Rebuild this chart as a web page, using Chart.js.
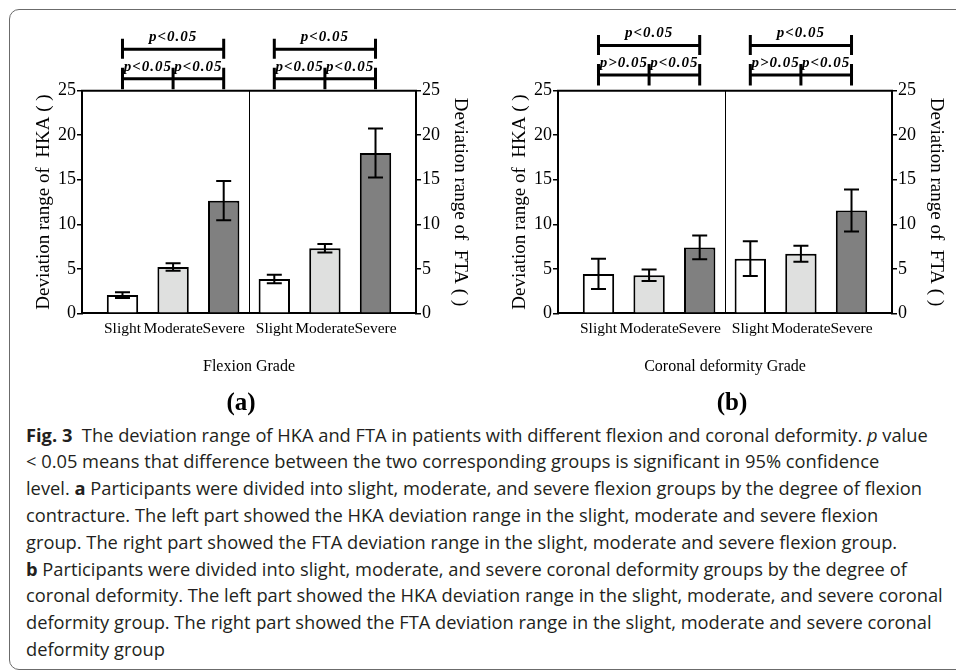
<!DOCTYPE html>
<html>
<head>
<meta charset="utf-8">
<script src="https://cdn.jsdelivr.net/npm/chart.js"></script>
<style>
  html, body { margin: 0; padding: 0; background: #fff; }
  body { width: 956px; height: 670px; position: relative; overflow: hidden; }
  .frame { position: absolute; left: 9px; top: 9px; width: 1000px; height: 661px; border: 1.5px solid #6b6b6b; border-radius: 10px; box-sizing: border-box; }
  .panel { position: absolute; top: 0; width: 478px; height: 390px; }
  .tag { position: absolute; top: 388px; font: bold 25px 'Liberation Serif', serif; line-height: 28px; transform: translateX(-50%); color: #000; }
  .caption { position: absolute; left: 26px; top: 421.6px; font-family: 'Open Sans', sans-serif; font-size: 18.3px; line-height: 26.8px; color: #231f20; white-space: nowrap; }
  .caption b { font-weight: bold; }
</style>
</head>
<body>
<div class="frame"></div>
<div class="panel" style="left:0px"><canvas id="flexionChart"></canvas></div>
<div class="panel" style="left:476px"><canvas id="coronalChart"></canvas></div>
<div class="tag" style="left:241px">(a)</div>
<div class="tag" style="left:732px">(b)</div>
<div class="caption">
  <div><b>Fig. 3</b>&nbsp;&nbsp;The deviation range of HKA and FTA in patients with different flexion and coronal deformity. <i>p</i> value</div>
  <div>&lt; 0.05 means that difference between the two corresponding groups is significant in 95% confidence</div>
  <div>level. <b>a</b> Participants were divided into slight, moderate, and severe flexion groups by the degree of flexion</div>
  <div>contracture. The left part showed the HKA deviation range in the slight, moderate and severe flexion</div>
  <div>group. The right part showed the FTA deviation range in the slight, moderate and severe flexion group.</div>
  <div><b>b</b> Participants were divided into slight, moderate, and severe coronal deformity groups by the degree of</div>
  <div>coronal deformity. The left part showed the HKA deviation range in the slight, moderate, and severe coronal</div>
  <div>deformity group. The right part showed the FTA deviation range in the slight, moderate and severe coronal</div>
  <div>deformity group</div>
</div>

<script>
const grades = ['Slight', 'Moderate', 'Severe'];

// flexion grade (panel a)
const flexionHKA = [2.05, 5.2, 12.65];
const flexionHKAErr = [0.32, 0.43, 2.2];
const flexionFTA = [3.85, 7.3, 18.0];
const flexionFTAErr = [0.47, 0.47, 2.75];
// [Slight-Severe, Slight-Moderate, Moderate-Severe]
const flexionHKAp = ['p<0.05', 'p<0.05', 'p<0.05'];
const flexionFTAp = ['p<0.05', 'p<0.05', 'p<0.05'];

// coronal deformity grade (panel b)
const coronalHKA = [4.42, 4.27, 7.4];
const coronalHKAErr = [1.7, 0.65, 1.33];
const coronalFTA = [6.13, 6.7, 11.55];
const coronalFTAErr = [1.95, 0.9, 2.35];
const coronalHKAp = ['p<0.05', 'p>0.05', 'p<0.05'];
const coronalFTAp = ['p<0.05', 'p>0.05', 'p<0.05'];

const yMin = 0;
const yMax = 25;
const yStep = 5;

const barColors = ['#ffffff', '#dfe0df', '#808080'];
const serif = "'Liberation Serif', 'Times New Roman', serif";

const errorBars = {
  id: 'errorBars',
  afterDatasetsDraw(chart) {
    const ctx = chart.ctx;
    ctx.save();
    ctx.strokeStyle = '#000';
    ctx.lineWidth = 2;
    chart.data.datasets.forEach((ds, di) => {
      const meta = chart.getDatasetMeta(di);
      const yScale = chart.scales[meta.yAxisID];
      meta.data.forEach((bar, i) => {
        const v = ds.data[i].y;
        const e = ds.errors[i];
        const top = yScale.getPixelForValue(v + e);
        const bot = yScale.getPixelForValue(v - e);
        ctx.beginPath();
        ctx.moveTo(bar.x, top);
        ctx.lineTo(bar.x, bot);
        ctx.moveTo(bar.x - 7.5, top);
        ctx.lineTo(bar.x + 7.5, top);
        ctx.moveTo(bar.x - 7.5, bot);
        ctx.lineTo(bar.x + 7.5, bot);
        ctx.stroke();
      });
    });
    ctx.restore();
  }
};

// box top edge + thin divider between HKA and FTA halves
const panelFrame = {
  id: 'panelFrame',
  beforeDatasetsDraw(chart) {
    const {ctx, chartArea} = chart;
    const mid = Math.round(chart.scales.x.getPixelForValue(3.5)) + 0.5;
    ctx.save();
    ctx.strokeStyle = '#000';
    ctx.lineWidth = 1;
    ctx.beginPath();
    ctx.moveTo(mid, chartArea.top);
    ctx.lineTo(mid, chartArea.bottom);
    ctx.stroke();
    ctx.lineWidth = 2;
    ctx.beginPath();
    ctx.moveTo(chartArea.left - 1, chartArea.top);
    ctx.lineTo(chartArea.right + 1, chartArea.top);
    ctx.stroke();
    ctx.restore();
  }
};

// significance brackets above each half
const brackets = {
  id: 'brackets',
  afterDraw(chart, args, opts) {
    const ctx = chart.ctx;
    const top = chart.chartArea.top - (opts.shift || 0);
    ctx.save();
    ctx.strokeStyle = '#000';
    ctx.fillStyle = '#000';
    ctx.lineWidth = 3;
    ctx.font = 'italic bold 15px ' + serif;
    ctx.letterSpacing = '1px';
    ctx.textAlign = 'center';
    ctx.textBaseline = 'middle';
    chart.data.datasets.forEach((ds, di) => {
      const xs = chart.getDatasetMeta(di).data.map(b => b.x);
      const p = ds.pValues;
      ctx.beginPath();
      ctx.moveTo(xs[0], top - 41.4);
      ctx.lineTo(xs[2], top - 41.4);
      [xs[0], xs[2]].forEach(x => { ctx.moveTo(x, top - 52); ctx.lineTo(x, top - 32); });
      ctx.moveTo(xs[0], top - 12);
      ctx.lineTo(xs[2], top - 12);
      xs.forEach(x => { ctx.moveTo(x, top - 23); ctx.lineTo(x, top - 1.5); });
      ctx.stroke();
      ctx.fillText(p[0], (xs[0] + xs[2]) / 2, top - 53.5);
      ctx.fillText(p[1], (xs[0] + xs[1]) / 2, top - 24);
      ctx.fillText(p[2], (xs[1] + xs[2]) / 2, top - 24);
    });
    ctx.restore();
  }
};

function yAxis(position, title, width) {
  return {
    position: position,
    min: yMin,
    max: yMax,
    ticks: { stepSize: yStep, color: '#000', padding: 1, font: { family: serif, size: 18 } },
    grid: { drawOnChartArea: false, tickLength: 5, color: '#000', lineWidth: 1.5 },
    border: { color: '#000', width: 2 },
    title: { display: true, text: title, color: '#000', padding: 0, font: { family: serif, size: 19 } },
    afterFit: s => { s.width = width; }
  };
}

function createGradeChart(canvasId, gradeTitle, hka, hkaErr, fta, ftaErr, hkaP, ftaP, shift) {
  const ctx = document.getElementById(canvasId);
  const xPos = grades.map((g, i) => i + 1);

  new Chart(ctx, {
    type: 'bar',
    data: {
      datasets: [{
        label: 'HKA',
        data: xPos.map((x, i) => ({ x: x, y: hka[i] })),
        errors: hkaErr,
        pValues: hkaP,
        yAxisID: 'y',
        backgroundColor: barColors,
        borderColor: '#000',
        borderWidth: 2
      }, {
        label: 'FTA',
        data: xPos.map((x, i) => ({ x: x + grades.length, y: fta[i] })),
        errors: ftaErr,
        pValues: ftaP,
        yAxisID: 'y2',
        backgroundColor: barColors,
        borderColor: '#000',
        borderWidth: 2
      }]
    },
    options: {
      responsive: true,
      maintainAspectRatio: false,
      animation: false,
      layout: { padding: { left: 32.6, right: 6.6, top: 90.7, bottom: 13.4 } },
      datasets: { bar: { grouped: false, categoryPercentage: 1, barPercentage: 0.62 } },
      plugins: {
        legend: { display: false },
        tooltip: { enabled: false },
        brackets: { shift: shift }
      },
      scales: {
        x: {
          type: 'linear',
          min: 0.2,
          max: 6.8,
          offset: false,
          afterBuildTicks: s => {
            s.ticks = [...xPos, ...xPos.map(x => x + grades.length)].map(v => ({ value: v }));
          },
          ticks: {
            callback: v => grades[(v - 1) % grades.length],
            color: '#000',
            padding: 6,
            autoSkip: false,
            maxRotation: 0,
            minRotation: 0,
            font: { family: serif, size: 15.5 }
          },
          grid: { display: false, drawTicks: false },
          border: { display: true, color: '#000', width: 2 },
          title: { display: true, text: gradeTitle, color: '#000', padding: 0, font: { family: serif, size: 16 } },
          afterFit: s => { s.height = 63.3; }
        },
        y: yAxis('left', 'Deviation range of  HKA ( )', 49.4),
        y2: yAxis('right', 'Deviation range of  FTA ( )', 55.4)
      }
    },
    plugins: [panelFrame, errorBars, brackets]
  });
}

createGradeChart('flexionChart', 'Flexion Grade', flexionHKA, flexionHKAErr, flexionFTA, flexionFTAErr, flexionHKAp, flexionFTAp, 0);
createGradeChart('coronalChart', 'Coronal deformity Grade', coronalHKA, coronalHKAErr, coronalFTA, coronalFTAErr, coronalHKAp, coronalFTAp, 3.7);
</script>
</body>
</html>
